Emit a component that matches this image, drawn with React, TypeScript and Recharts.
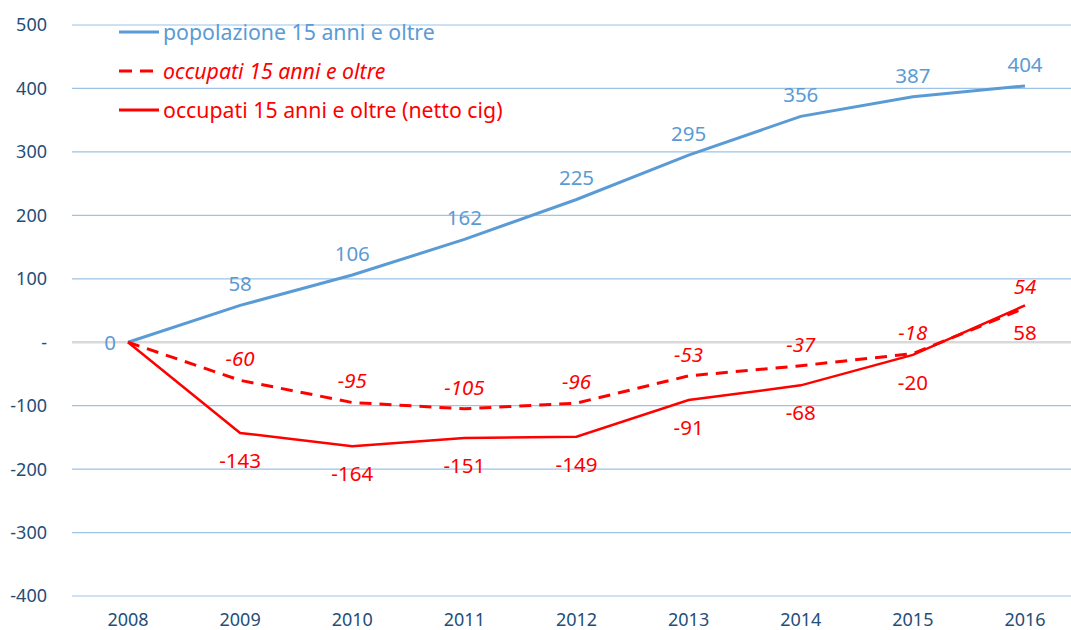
import React from "react";
import {
  LineChart,
  Line,
  XAxis,
  YAxis,
  CartesianGrid,
  ReferenceLine,
  LabelList,
} from "recharts";

const years = ["2008", "2009", "2010", "2011", "2012", "2013", "2014", "2015", "2016"];
const popolazione = [0, 58, 106, 162, 225, 295, 356, 387, 404];
const occupati = [0, -60, -95, -105, -96, -53, -37, -18, 54];
const occupatiNetto = [0, -143, -164, -151, -149, -91, -68, -20, 58];
const yTicks = [-400, -300, -200, -100, 0, 100, 200, 300, 400, 500];

const BLUE = "#5B9BD5";
const RED = "#FF0000";
const AXIS_TEXT = "#1F4E79";
const FONT = "'Noto Sans', sans-serif";

const data = years.map((year, i) => ({
  year,
  pop: popolazione[i],
  occ: occupati[i],
  netto: occupatiNetto[i],
}));

const legendItems = [
  { label: "popolazione 15 anni e oltre", color: BLUE, dashed: false, italic: false },
  { label: "occupati 15 anni e oltre", color: RED, dashed: true, italic: true },
  { label: "occupati 15 anni e oltre (netto cig)", color: RED, dashed: false, italic: false },
];

function ChartLegend() {
  return (
    <div
      style={{
        position: "absolute",
        left: 119,
        top: 12,
        fontFamily: FONT,
        fontSize: 21.3,
        lineHeight: 1,
      }}
    >
      {legendItems.map((item) => (
        <div
          key={item.label}
          style={{ display: "flex", alignItems: "center", height: 39, color: item.color }}
        >
          <svg width={42} height={6} style={{ marginRight: 2 }}>
            <line
              x1={0}
              y1={3}
              x2={40}
              y2={3}
              stroke={item.color}
              strokeWidth={3}
              strokeDasharray={item.dashed ? "13 8" : undefined}
            />
          </svg>
          <span style={{ fontStyle: item.italic ? "italic" : "normal", whiteSpace: "nowrap" }}>
            {item.label}
          </span>
        </div>
      ))}
    </div>
  );
}

function makeLabel(color: string, pos: "above" | "below", italic: boolean, skipFirst: boolean) {
  return (props: any) => {
    const { x, y, value, index } = props;
    if (index === 0 && skipFirst) return null;
    let lx = x;
    let ly = pos === "above" ? y - 22 : y + 27;
    if (index === 0 && !skipFirst) {
      lx = x - 18;
      ly = y;
    }
    return (
      <text
        x={lx}
        y={ly}
        fill={color}
        fontSize={20.5}
        fontFamily={FONT}
        fontStyle={italic ? "italic" : "normal"}
        textAnchor="middle"
        dominantBaseline="central"
      >
        {value}
      </text>
    );
  };
}

export default function App() {
  return (
    <div
      style={{
        position: "absolute",
        left: 0,
        top: 0,
        width: 1071,
        height: 630,
        overflow: "hidden",
        background: "#fff",
      }}
    >
      <LineChart
        width={1081}
        height={630}
        data={data}
        margin={{ top: 25, right: 0, bottom: 0, left: 0 }}
      >
        <CartesianGrid vertical={false} stroke="#9DC3E6" strokeWidth={1.2} />
        <ReferenceLine y={0} stroke="#D9D9D9" strokeWidth={2.5} />
        <XAxis
          dataKey="year"
          axisLine={false}
          tickLine={false}
          tickSize={0}
          tickMargin={17}
          height={34}
          padding={{ left: 56, right: 56 }}
          tick={{ fill: AXIS_TEXT, fontSize: 18, fontFamily: FONT }}
        />
        <YAxis
          domain={[-400, 500]}
          ticks={yTicks}
          axisLine={false}
          tickLine={false}
          tickSize={0}
          tickMargin={25}
          width={72}
          tickFormatter={(v: number) => (v === 0 ? "-" : String(v))}
          tick={{ fill: AXIS_TEXT, fontSize: 18, fontFamily: FONT }}
        />
        <Line
          dataKey="pop"
          stroke={BLUE}
          strokeWidth={3}
          dot={false}
          isAnimationActive={false}
        >
          <LabelList dataKey="pop" content={makeLabel(BLUE, "above", false, false)} />
        </Line>
        <Line
          dataKey="occ"
          stroke={RED}
          strokeWidth={3}
          strokeDasharray="12 8"
          dot={false}
          isAnimationActive={false}
        >
          <LabelList dataKey="occ" content={makeLabel(RED, "above", true, true)} />
        </Line>
        <Line
          dataKey="netto"
          stroke={RED}
          strokeWidth={2.5}
          dot={false}
          isAnimationActive={false}
        >
          <LabelList dataKey="netto" content={makeLabel(RED, "below", false, true)} />
        </Line>
      </LineChart>
      <ChartLegend />
    </div>
  );
}
